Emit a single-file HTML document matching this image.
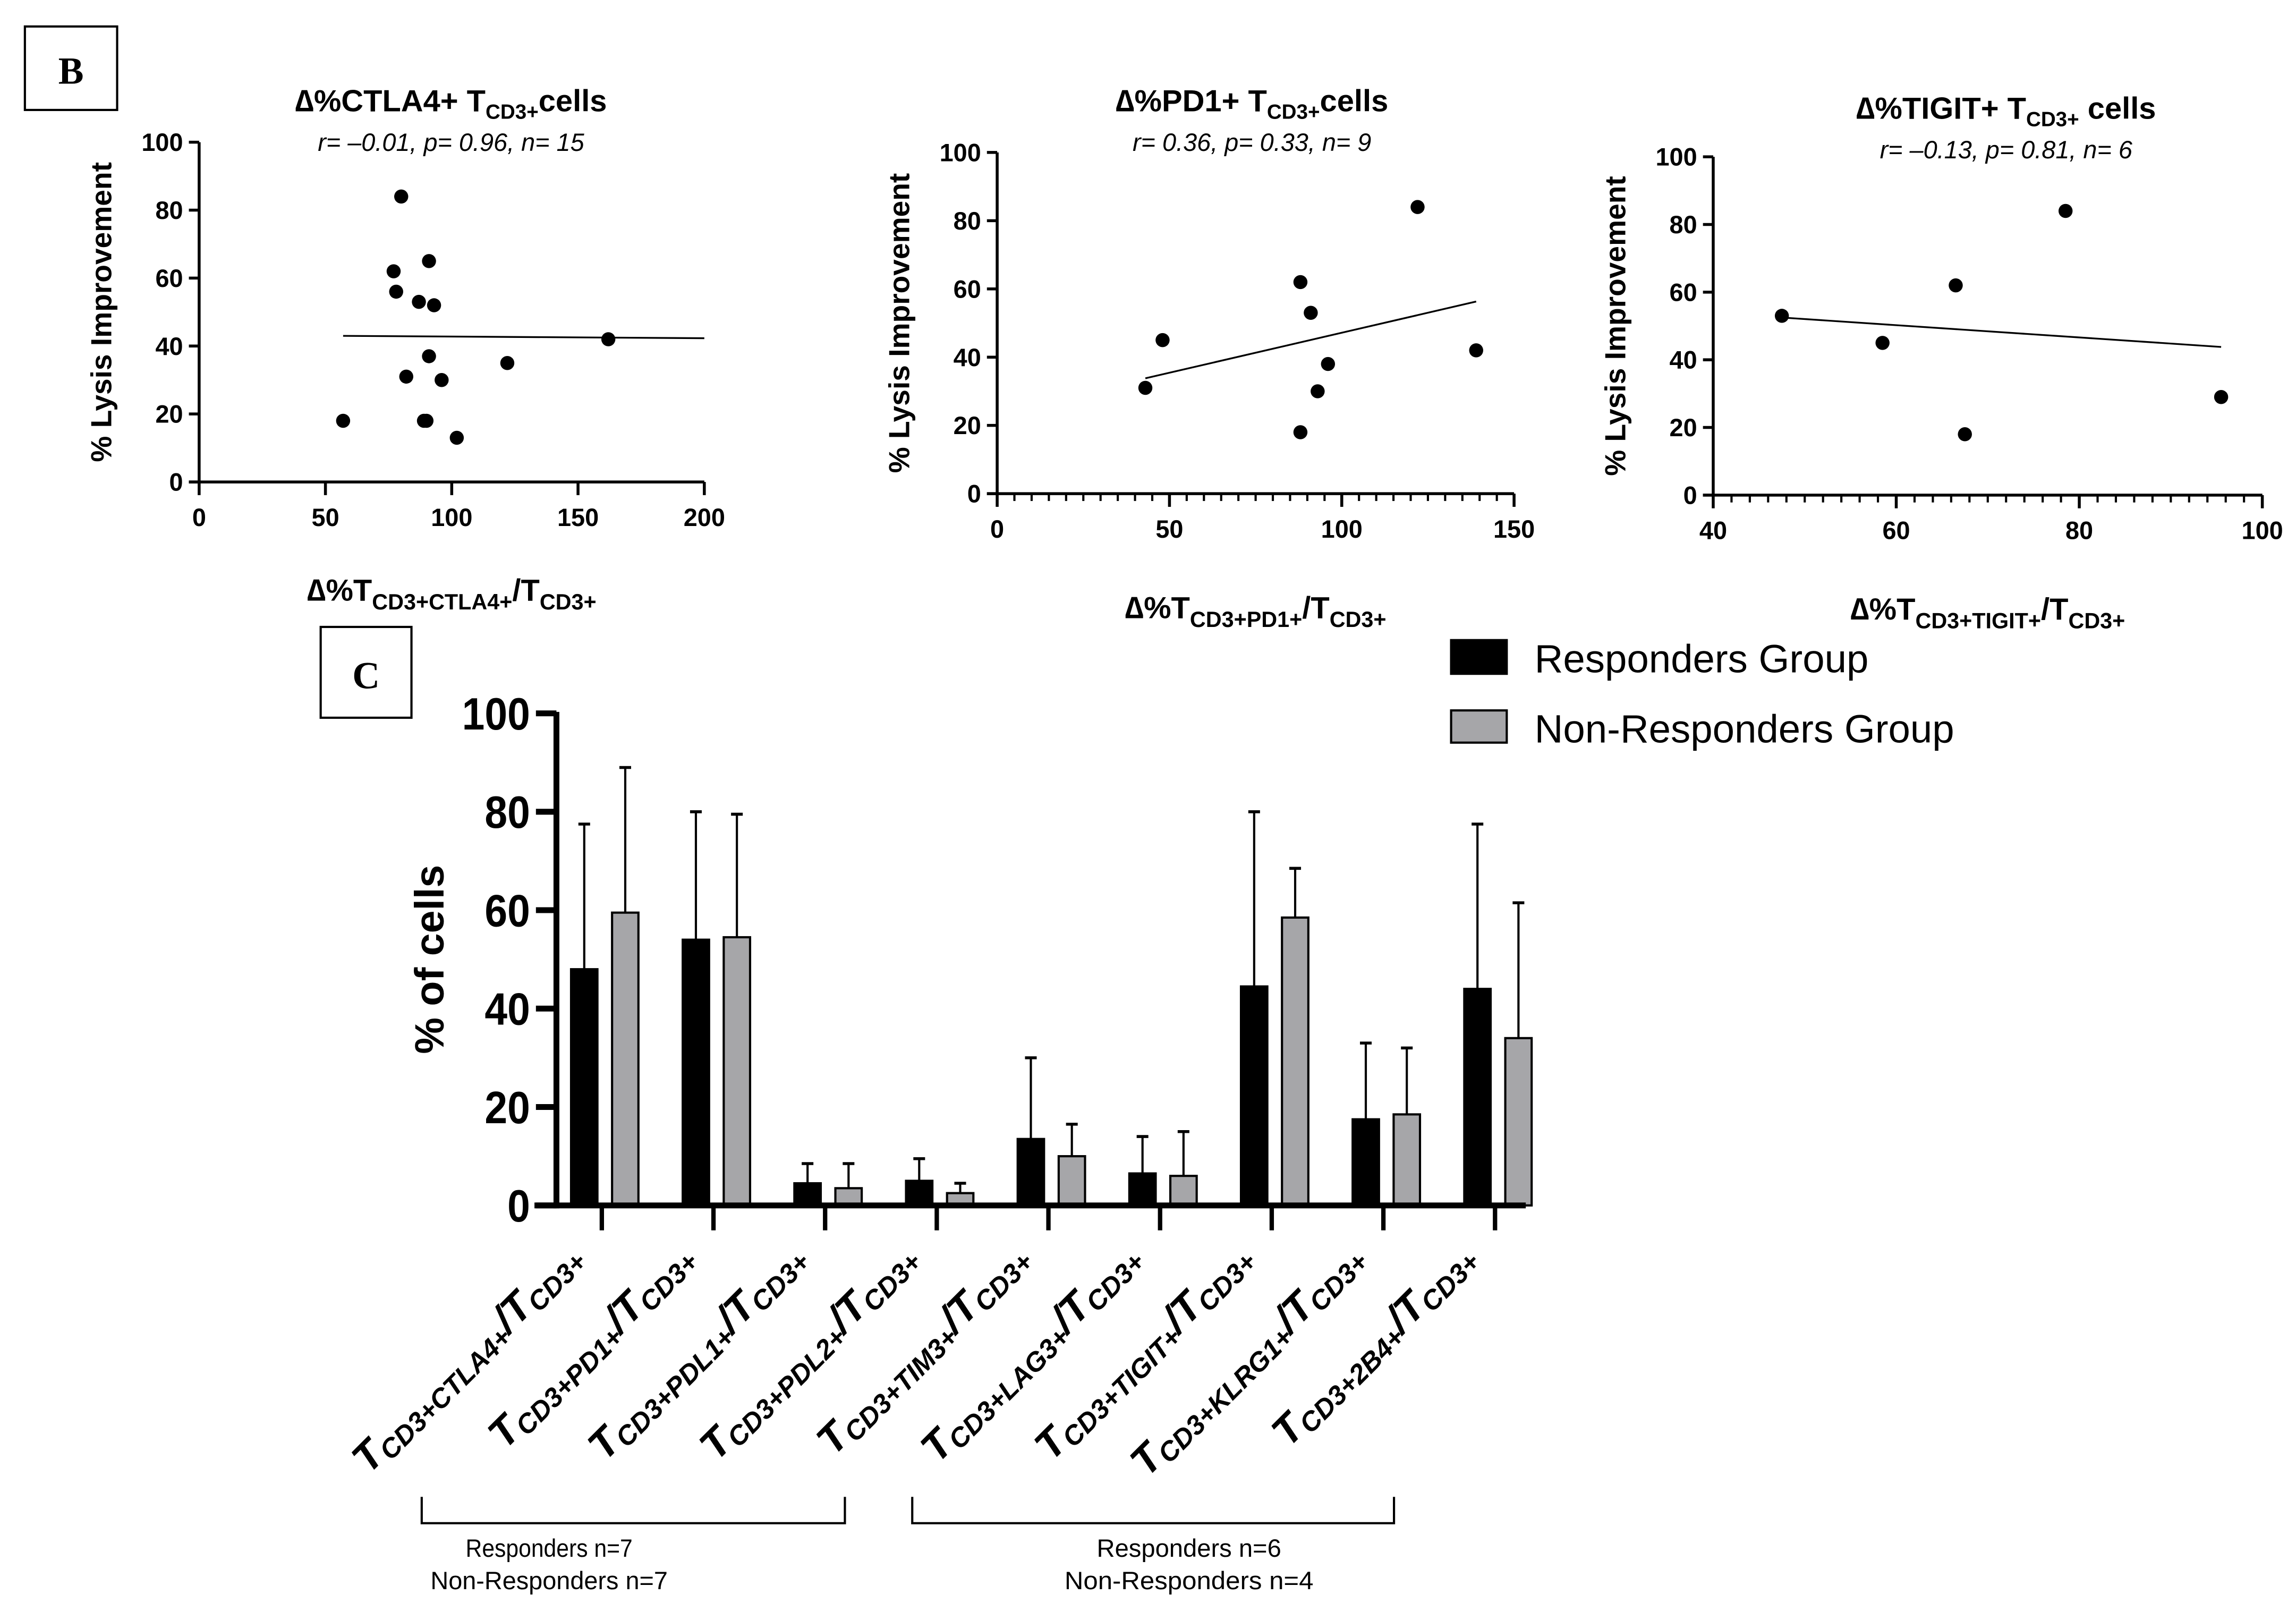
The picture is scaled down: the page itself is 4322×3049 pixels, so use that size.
<!DOCTYPE html>
<html><head><meta charset="utf-8"><style>
html,body{margin:0;padding:0;background:#fff}
svg{display:block}
text{font-family:"Liberation Sans Narrow","Liberation Sans",sans-serif}
.n{font-family:"Liberation Sans Narrow","Liberation Sans",sans-serif;font-weight:bold}
.w{font-family:"Liberation Sans",sans-serif}
</style></head><body>
<svg id="fig" xmlns="http://www.w3.org/2000/svg" width="4322" height="3049" viewBox="0 0 1568 1106">
<rect x="0" y="0" width="1568" height="1106" fill="#fff"/>
<rect x="17" y="18" width="63" height="57" fill="none" stroke="#000" stroke-width="1.5"/>
<text x="48.5" y="57" text-anchor="middle" style="font-family:'Liberation Serif',serif;font-weight:bold;font-size:26px">B</text>
<rect x="219" y="428" width="62" height="62" fill="none" stroke="#000" stroke-width="1.5"/>
<text x="250" y="470" text-anchor="middle" style="font-family:'Liberation Serif',serif;font-weight:bold;font-size:26px">C</text>
<g id="charts"></g>
</svg>
<script>
// ---- scatter data ----
const s1x=[57,77,78,80,82,87,89,90,91,91,93,96,102,122,162];
const s1y=[18,62,56,84,31,53,18,18,65,37,52,30,13,35,42];
const s1fit=[43.0,42.3];
const s2x=[43,48,88,88,91,93,96,122,139];
const s2y=[31,45,18,62,53,30,38,84,42];
const s2fit=[33.8,56.3];
const s3x=[47.5,58.5,66.5,67.5,78.5,95.5];
const s3y=[53,45,62,18,84,29];
const s3fit=[52.5,43.8];
// ---- bar data ----
const categories=["CTLA4","PD1","PDL1","PDL2","TIM3","LAG3","TIGIT","KLRG1","2B4"];
const respVals=[48,54,4.5,5,13.5,6.5,44.5,17.5,44];
const respErr=[77.5,80,8.5,9.5,30,14,80,33,77.5];
const nonVals=[59.5,54.5,3.5,2.5,10,6,58.5,18.5,34];
const nonErr=[89,79.5,8.5,4.5,16.5,15,68.5,32,61.5];
const barTicks=[0,20,40,60,80,100];

const NS="http://www.w3.org/2000/svg";
const root=document.getElementById('charts');
function mk(tag,attrs,parent,txt){const e=document.createElementNS(NS,tag);for(const k in attrs)e.setAttribute(k,attrs[k]);if(txt!==undefined)e.textContent=txt;(parent||root).appendChild(e);return e;}
function tsp(parent,txt,attrs){const t=document.createElementNS(NS,'tspan');for(const k in attrs)t.setAttribute(k,attrs[k]);t.textContent=txt;parent.appendChild(t);return t;}

function scatter(o){
  const g=mk('g',{});
  
  
  const X=v=>o.x0+(v-o.xmin)/(o.xmax-o.xmin)*(o.x1-o.x0);
  const Y=v=>o.y0-(v/100)*(o.y0-o.y1);
  let a=mk('line',{x1:o.x0,y1:o.y1,x2:o.x0,y2:o.y0+0.8,stroke:'#000','stroke-width':2},g);
  
  a=mk('line',{x1:o.x0-7,y1:o.y0,x2:o.x1,y2:o.y0,stroke:'#000','stroke-width':2},g);
  
  for(let v=0;v<=100;v+=20){
    mk('line',{x1:o.x0-7,y1:Y(v),x2:o.x0,y2:Y(v),stroke:'#000','stroke-width':2},g);
    const t=mk('text',{x:o.x0-11,y:Y(v)+6,'text-anchor':'end','font-size':17,class:'n'},g,String(v));
    
  }
  for(const v of o.xt){
    mk('line',{x1:X(v),y1:o.y0,x2:X(v),y2:o.y0+9,stroke:'#000','stroke-width':2},g);
    const t=mk('text',{x:X(v),y:o.y0+30,'text-anchor':'middle','font-size':17,class:'n'},g,String(v));
    
  }
  if(o.minor){for(let v=o.xmin;v<=o.xmax+0.001;v+=o.minor){mk('line',{x1:X(v),y1:o.y0,x2:X(v),y2:o.y0+5,stroke:'#000','stroke-width':1.5},g);}}
  const fl=mk('line',{x1:X(o.fx[0]),y1:Y(o.fy[0]),x2:X(o.fx[1]),y2:Y(o.fy[1]),stroke:'#000','stroke-width':1.2},g);
  
  for(let i=0;i<o.xs.length;i++){
    const c=mk('circle',{cx:X(o.xs[i]),cy:Y(o.ys[i]),r:4.8,fill:'#000'},g);
    
  }
  const tt=mk('text',{x:o.tx,y:o.ty,'text-anchor':'middle','font-size':21,class:'w','font-weight':'bold'},g);
  
  tsp(tt,'∆%'+o.marker+' T',{});tsp(tt,'CD3+',{'font-size':14,dy:5});tsp(tt,o.tail,{dy:-5});
  const st=mk('text',{x:o.tx,y:o.ty+27,'text-anchor':'middle','font-size':17,class:'w','font-style':'italic'},g,o.stats);
  
  const yt=mk('text',{x:0,y:0,'text-anchor':'middle','font-size':20,class:'w','font-weight':'bold',transform:`translate(${o.x0-60},${(o.y0+o.y1)/2}) rotate(-90)`},g,'% Lysis Improvement');
  
  const xt=mk('text',{x:(o.x0+o.x1)/2,y:o.y0+o.xty,'text-anchor':'middle','font-size':21,class:'n'},g);
  
  tsp(xt,'∆%T',{});tsp(xt,'CD3+'+o.sub+'+',{'font-size':15,dy:6});tsp(xt,'/T',{dy:-6});tsp(xt,'CD3+',{'font-size':15,dy:6});
}
scatter({name:'scatter-ctla4',x0:136,x1:481,y0:329,y1:97,xmin:0,xmax:200,xt:[0,50,100,150,200],minor:0,xs:s1x,ys:s1y,fx:[57,200],fy:s1fit,tx:308,ty:76,marker:'CTLA4+',tail:'cells',stats:'r= –0.01, p= 0.96, n= 15',sub:'CTLA4',xty:81});
scatter({name:'scatter-pd1',x0:681,x1:1034,y0:337,y1:104,xmin:0,xmax:150,xt:[0,50,100,150],minor:5,xs:s2x,ys:s2y,fx:[43,139],fy:s2fit,tx:855,ty:76,marker:'PD1+',tail:'cells',stats:'r= 0.36, p= 0.33, n= 9',sub:'PD1',xty:85});
scatter({name:'scatter-tigit',x0:1170,x1:1545,y0:338,y1:107,xmin:40,xmax:100,xt:[40,60,80,100],minor:2,xs:s3x,ys:s3y,fx:[47.5,95.5],fy:s3fit,tx:1370,ty:81,marker:'TIGIT+',tail:' cells',stats:'r= –0.13, p= 0.81, n= 6',sub:'TIGIT',xty:85});

// ---- bar chart ----
(function(){
  const g=mk('g',{});
  
  
  const ax=380, y0=823, y1=487, c0=411, step=76.25, bw=18;
  const Y=v=>y0-v/100*(y0-y1);
  const C=i=>c0+i*step;
  for(let i=0;i<categories.length;i++){
    const c=C(i);
    let e=mk('line',{x1:c-12,y1:Y(respVals[i]),x2:c-12,y2:Y(respErr[i]),stroke:'#000','stroke-width':1.5},g);
    
    mk('line',{x1:c-16,y1:Y(respErr[i]),x2:c-8,y2:Y(respErr[i]),stroke:'#000','stroke-width':2},g);
    let b=mk('rect',{x:c-21,y:Y(respVals[i]),width:bw,height:y0-Y(respVals[i]),fill:'#000',stroke:'#000','stroke-width':1.5},g);
    
    e=mk('line',{x1:c+16,y1:Y(nonVals[i]),x2:c+16,y2:Y(nonErr[i]),stroke:'#000','stroke-width':1.5},g);
    
    mk('line',{x1:c+12,y1:Y(nonErr[i]),x2:c+20,y2:Y(nonErr[i]),stroke:'#000','stroke-width':2},g);
    b=mk('rect',{x:c+7,y:Y(nonVals[i]),width:bw,height:y0-Y(nonVals[i]),fill:'#a6a6a9',stroke:'#000','stroke-width':1.5},g);
    
    mk('line',{x1:c,y1:y0,x2:c,y2:y0+17,stroke:'#000','stroke-width':3},g);
    const t=mk('text',{x:0,y:0,'text-anchor':'end',class:'n','font-style':'italic','font-size':28,transform:`translate(${c-12},${860}) rotate(-45)`},g);
    
    tsp(t,'T',{});tsp(t,'CD3+'+categories[i]+'+',{'font-size':18.5,dy:4});tsp(t,'/T',{dy:-4});tsp(t,'CD3+',{'font-size':18.5,dy:4});
  }
  let a=mk('line',{x1:ax,y1:y1-1,x2:ax,y2:y0+2,stroke:'#000','stroke-width':4},g);
  
  a=mk('line',{x1:365,y1:y0,x2:1042,y2:y0,stroke:'#000','stroke-width':4},g);
  
  for(const v of barTicks){
    mk('line',{x1:ax-14,y1:Y(v),x2:ax,y2:Y(v),stroke:'#000','stroke-width':4},g);
    const s=String(v);
    const t=mk('text',{x:ax-18,y:Y(v)+11,'text-anchor':'end',class:'n','font-size':31,textLength:s.length*15.5,lengthAdjust:'spacingAndGlyphs'},g,s);
    
  }
  const yt=mk('text',{x:0,y:0,'text-anchor':'middle','font-size':28,class:'w','font-weight':'bold',transform:`translate(303,655) rotate(-90)`},g,'% of cells');
  
})();
</script>
<svg style="position:absolute;left:0;top:0" width="4322" height="3049" viewBox="0 0 1568 1106" xmlns="http://www.w3.org/2000/svg">
<g>
<rect x="991" y="437" width="38" height="23" fill="#000" stroke="#000" stroke-width="1.5"/>
<text x="1048" y="459" font-size="27" style="font-family:'Liberation Sans',sans-serif">Responders Group</text>
<rect x="991" y="485" width="38" height="22" fill="#a6a6a9" stroke="#000" stroke-width="1.5"/>
<text x="1048" y="507" font-size="27" style="font-family:'Liberation Sans',sans-serif">Non-Responders Group</text>
</g>
<path d="M288,1022 V1040 H577 V1022" fill="none" stroke="#000" stroke-width="1.5"/>
<path d="M623,1022 V1040 H952 V1022" fill="none" stroke="#000" stroke-width="1.5"/>
<text x="375" y="1063" text-anchor="middle" font-size="17" textLength="114" lengthAdjust="spacingAndGlyphs" style="font-family:'Liberation Sans Narrow','Liberation Sans',sans-serif">Responders n=7</text>
<text x="375" y="1085" text-anchor="middle" font-size="17" textLength="162" lengthAdjust="spacingAndGlyphs" style="font-family:'Liberation Sans Narrow','Liberation Sans',sans-serif">Non-Responders  n=7</text>
<text x="812" y="1063" text-anchor="middle" font-size="17" textLength="126" lengthAdjust="spacingAndGlyphs" style="font-family:'Liberation Sans Narrow','Liberation Sans',sans-serif">Responders n=6</text>
<text x="812" y="1085" text-anchor="middle" font-size="17" textLength="170" lengthAdjust="spacingAndGlyphs" style="font-family:'Liberation Sans Narrow','Liberation Sans',sans-serif">Non-Responders  n=4</text>
</svg>
</body></html>
